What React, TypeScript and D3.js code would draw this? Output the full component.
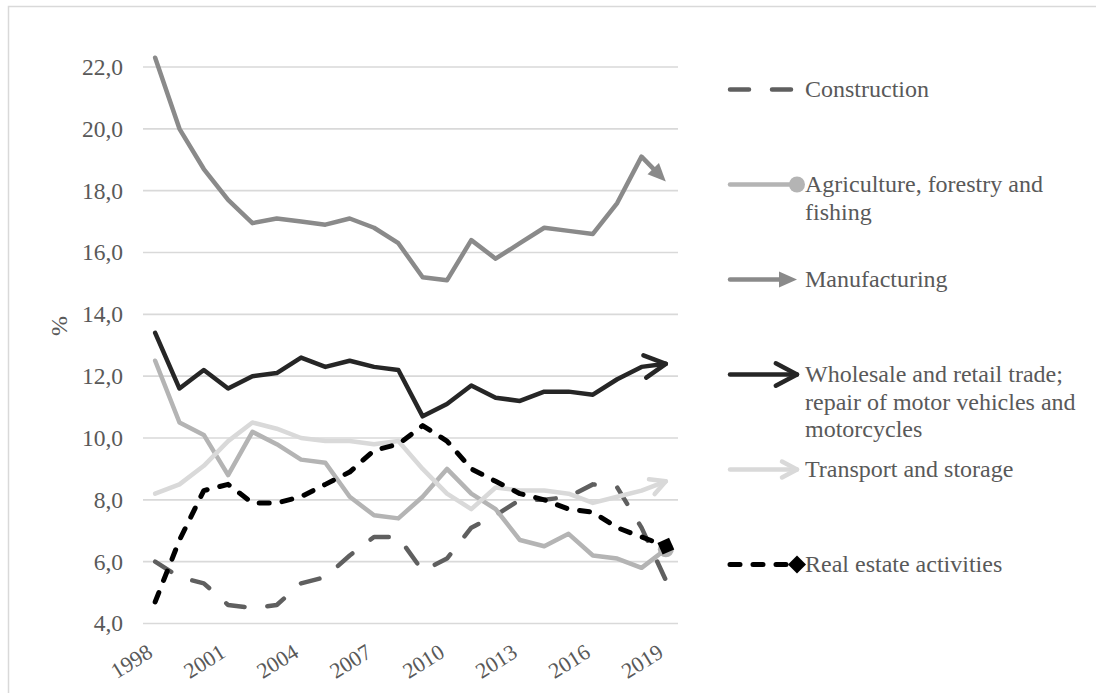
import React from "react";
import * as d3 from "d3";

// Share of gross value added by industry, %, 1998–2019
const years = [
  "1998", "1999", "2000", "2001", "2002", "2003", "2004", "2005", "2006", "2007", "2008",
  "2009", "2010", "2011", "2012", "2013", "2014", "2015", "2016", "2017", "2018", "2019",
];
const tickYears = ["1998", "2001", "2004", "2007", "2010", "2013", "2016", "2019"];
const yTicks = [4, 6, 8, 10, 12, 14, 16, 18, 20, 22];

const construction = [6.0, 5.5, 5.3, 4.6, 4.5, 4.6, 5.3, 5.5, 6.2, 6.8, 6.8, 5.7, 6.1, 7.1, 7.5, 8.0, 8.0, 8.1, 8.5, 8.4, 7.1, 5.4];
const agriculture = [12.5, 10.5, 10.1, 8.8, 10.2, 9.8, 9.3, 9.2, 8.1, 7.5, 7.4, 8.1, 9.0, 8.2, 7.7, 6.7, 6.5, 6.9, 6.2, 6.1, 5.8, 6.4];
const manufacturing = [22.3, 20.0, 18.7, 17.7, 16.95, 17.1, 17.0, 16.9, 17.1, 16.8, 16.3, 15.2, 15.1, 16.4, 15.8, 16.3, 16.8, 16.7, 16.6, 17.6, 19.1, 18.3];
const wholesale = [13.4, 11.6, 12.2, 11.6, 12.0, 12.1, 12.6, 12.3, 12.5, 12.3, 12.2, 10.7, 11.1, 11.7, 11.3, 11.2, 11.5, 11.5, 11.4, 11.9, 12.3, 12.4];
const transport = [8.2, 8.5, 9.1, 9.9, 10.5, 10.3, 10.0, 9.9, 9.9, 9.8, 9.9, 9.0, 8.2, 7.7, 8.4, 8.3, 8.3, 8.2, 7.9, 8.1, 8.3, 8.6];
const realEstate = [4.7, 6.7, 8.3, 8.5, 7.9, 7.9, 8.1, 8.5, 8.9, 9.6, 9.8, 10.4, 9.9, 9.0, 8.6, 8.2, 8.0, 7.7, 7.6, 7.1, 6.8, 6.5];

type EndKind = "none" | "triangle" | "open" | "oval" | "diamond";

interface Series {
  name: string[];
  values: number[];
  color: string;
  width: number;
  dash?: string;
  end: EndKind;
  arrowLen?: number;
}

const series: Series[] = [
  { name: ["Construction"], values: construction, color: "#5f5f5f", width: 4.5, dash: "19 23", end: "none" },
  { name: ["Agriculture, forestry and", "fishing"], values: agriculture, color: "#b4b4b4", width: 4.5, end: "oval" },
  { name: ["Manufacturing"], values: manufacturing, color: "#8a8a8a", width: 4.5, end: "triangle" },
  {
    name: ["Wholesale and retail trade;", "repair of motor vehicles and", "motorcycles"],
    values: wholesale, color: "#262626", width: 4.5, end: "open", arrowLen: 24,
  },
  { name: ["Transport and storage"], values: transport, color: "#d9d9d9", width: 4.5, end: "open", arrowLen: 17 },
  { name: ["Real estate activities"], values: realEstate, color: "#000000", width: 5, dash: "10 13", end: "diamond" },
];

const W = 1096;
const H = 693;
const plot = { left: 143, right: 678, top: 67, bottom: 623.5 };
const FONT = "Liberation Serif, serif";
const TEXT = "#595959";
const TICK_SIZE = 23.5;
const LEGEND_SIZE = 24;

const x = d3.scaleBand<string>().domain(years).range([plot.left, plot.right]);
const cx = (yr: string) => (x(yr) ?? 0) + x.bandwidth() / 2;
const y = d3.scaleLinear().domain([4, 22]).range([plot.bottom, plot.top]);

type Pt = [number, number];

// Line end decoration drawn at p1, oriented along p0 -> p1
function EndMark({ kind, p0, p1, color, width, len }: { kind: EndKind; p0: Pt; p1: Pt; color: string; width: number; len?: number }) {
  const a = Math.atan2(p1[1] - p0[1], p1[0] - p0[0]);
  const ux = Math.cos(a);
  const uy = Math.sin(a);
  const nx = -uy;
  const ny = ux;
  const [tx, ty] = p1;
  if (kind === "triangle") {
    const L = 18;
    const hw = 8;
    const bx = tx - ux * L;
    const by = ty - uy * L;
    const pts = [[tx, ty], [bx + nx * hw, by + ny * hw], [bx - nx * hw, by - ny * hw]];
    return <polygon points={pts.map((p) => p.join(",")).join(" ")} fill={color} />;
  }
  if (kind === "open") {
    const L = len ?? 20;
    const ang = (28 * Math.PI) / 180;
    const arm = (s: number): Pt => {
      const b = a + Math.PI + s * ang;
      return [tx + Math.cos(b) * L, ty + Math.sin(b) * L];
    };
    const p = [arm(1), [tx, ty], arm(-1)];
    return (
      <polyline
        points={p.map((q) => q.join(",")).join(" ")}
        fill="none"
        stroke={color}
        strokeWidth={width}
        strokeLinecap="round"
        strokeLinejoin="round"
      />
    );
  }
  if (kind === "oval") {
    return <circle cx={tx} cy={ty} r={8} fill={color} />;
  }
  if (kind === "diamond") {
    const s = 9;
    const pts = [
      [tx + ux * s, ty + uy * s],
      [tx + nx * s, ty + ny * s],
      [tx - ux * s, ty - uy * s],
      [tx - nx * s, ty - ny * s],
    ];
    return <polygon points={pts.map((p) => p.join(",")).join(" ")} fill={color} />;
  }
  return null;
}

// Pull the final vertex back so a solid arrowhead is not overdrawn by the stroke
function trimEnd(pts: Pt[], kind: EndKind): Pt[] {
  if (kind !== "triangle") return pts;
  const n = pts.length;
  const [x0, y0] = pts[n - 2];
  const [x1, y1] = pts[n - 1];
  const len = Math.hypot(x1 - x0, y1 - y0);
  const k = (len - 12) / len;
  return [...pts.slice(0, n - 1), [x0 + (x1 - x0) * k, y0 + (y1 - y0) * k]];
}

const lineGen = d3.line<Pt>().x((d) => d[0]).y((d) => d[1]).curve(d3.curveLinear);

const legendX0 = 730;
const legendX1 = 797;
const legendTextX = 805;
const legendRow0 = 89.5;
const legendStep = 95;

export default function App() {
  return (
    <div style={{ position: "absolute", left: 0, top: 0 }}>
      <svg width={W} height={H} style={{ display: "block", background: "#fff", fontFamily: FONT }}>
        <rect x={8.5} y={6.5} width={W + 20} height={H + 20} fill="#fff" stroke="#d9d9d9" strokeWidth={1.5} />

        {/* gridlines */}
        {yTicks.map((t) => (
          <line key={t} x1={plot.left} x2={plot.right} y1={y(t)} y2={y(t)} stroke="#d9d9d9" strokeWidth={1.6} />
        ))}

        {/* y tick labels */}
        {yTicks.map((t) => (
          <text key={t} x={123} y={y(t)} dy="0.34em" textAnchor="end" fontSize={TICK_SIZE} fill={TEXT}>
            {t.toFixed(1).replace(".", ",")}
          </text>
        ))}

        {/* x tick labels */}
        {tickYears.map((yr) => (
          <text
            key={yr}
            transform={`translate(${cx(yr) - 1},${656}) rotate(-32)`}
            textAnchor="end"
            fontSize={22}
            fill={TEXT}
          >
            {yr}
          </text>
        ))}

        <text transform={`translate(${67},${326}) rotate(-90)`} textAnchor="middle" fontSize={24} fill={TEXT}>
          %
        </text>

        {/* series */}
        {series.map((s, i) => {
          const pts: Pt[] = years.map((yr, j) => [cx(yr), y(s.values[j])]);
          const n = pts.length;
          return (
            <g key={i}>
              <path
                d={lineGen(trimEnd(pts, s.end)) ?? ""}
                fill="none"
                stroke={s.color}
                strokeWidth={s.width}
                strokeDasharray={s.dash}
                strokeLinecap="round"
                strokeLinejoin="round"
              />
              <EndMark kind={s.end} p0={pts[n - 2]} p1={pts[n - 1]} color={s.color} width={s.width} len={s.arrowLen} />
            </g>
          );
        })}

        {/* legend */}
        {series.map((s, i) => {
          const cy = legendRow0 + i * legendStep;
          const lp: Pt[] = [[legendX0, cy], [legendX1, cy]];
          return (
            <g key={i}>
              <path
                d={lineGen(trimEnd(lp, s.end)) ?? ""}
                fill="none"
                stroke={s.color}
                strokeWidth={s.width}
                strokeDasharray={s.dash}
                strokeLinecap="round"
              />
              <EndMark kind={s.end} p0={lp[0]} p1={lp[1]} color={s.color} width={s.width} len={s.arrowLen} />
              <text x={legendTextX} y={cy + 7.5} fontSize={LEGEND_SIZE} fill={TEXT}>
                {s.name.map((ln, k) => (
                  <tspan key={k} x={legendTextX} dy={k === 0 ? 0 : 27.5}>
                    {ln}
                  </tspan>
                ))}
              </text>
            </g>
          );
        })}
      </svg>
    </div>
  );
}
